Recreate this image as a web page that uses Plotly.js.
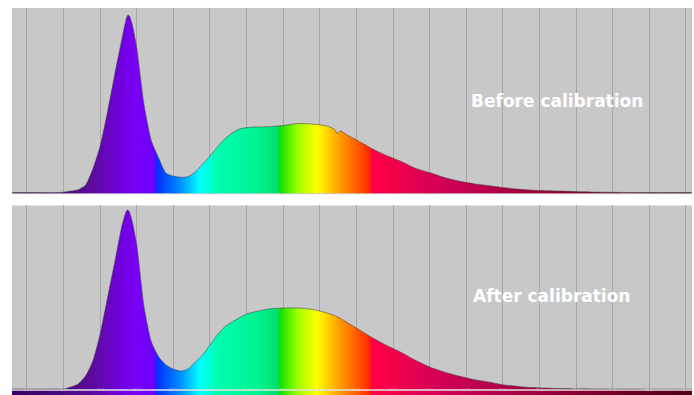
<!DOCTYPE html>
<html>
<head>
<meta charset="utf-8">
<script src="https://cdn.plot.ly/plotly-3.0.1.min.js"></script>
<style>html,body{margin:0;padding:0;background:#fff;}#chart{width:694px;height:395px;}</style>
</head>
<body>
<div id="chart"></div>
<script>
// Wavelength (nm)
const wavelength = [365, 380, 395, 400, 405, 410, 415, 420, 425, 430, 435, 440, 443, 444, 445, 447, 450, 455, 460, 465, 470, 475, 480, 485, 490, 495, 500, 505, 510, 515, 520, 525, 530, 540, 550, 560, 570, 580, 585, 587, 589, 595, 600, 610, 620, 630, 640, 650, 660, 670, 680, 690, 700, 710, 720, 740, 760, 780, 800, 829];
// Relative intensity before calibration
const before = [0.003, 0.003, 0.003, 0.005, 0.011, 0.019, 0.043, 0.13, 0.254, 0.438, 0.643, 0.838, 0.946, 0.962, 0.957, 0.908, 0.784, 0.476, 0.281, 0.189, 0.108, 0.092, 0.086, 0.089, 0.114, 0.157, 0.2, 0.249, 0.292, 0.324, 0.346, 0.354, 0.357, 0.359, 0.365, 0.376, 0.373, 0.362, 0.345, 0.322, 0.336, 0.308, 0.288, 0.243, 0.205, 0.173, 0.135, 0.111, 0.084, 0.065, 0.051, 0.041, 0.03, 0.022, 0.016, 0.011, 0.006, 0.004, 0.003, 0.003];
// Relative intensity after calibration
const after = [0.003, 0.003, 0.003, 0.003, 0.014, 0.03, 0.073, 0.155, 0.302, 0.497, 0.693, 0.894, 0.97, 0.975, 0.965, 0.91, 0.785, 0.448, 0.258, 0.177, 0.133, 0.111, 0.1, 0.111, 0.149, 0.188, 0.242, 0.296, 0.34, 0.367, 0.389, 0.41, 0.421, 0.4375, 0.443, 0.443, 0.435, 0.416, 0.402, 0.394, 0.386, 0.358, 0.334, 0.285, 0.242, 0.204, 0.16, 0.122, 0.095, 0.073, 0.054, 0.041, 0.026, 0.017, 0.011, 0.005, 0.003, 0.003, 0.002, 0.002];
const gridTicks = [375, 400, 425, 450, 475, 500, 525, 550, 575, 600, 625, 650, 675, 700, 725, 750, 775, 800, 825];
const panelTitles = ["Before calibration", "After calibration"];

// spectrum colour stops (nm, colour)
const specNm =  [365, 400, 420, 440, 450, 462, 464, 480, 493, 505, 535, 546, 548, 560, 573, 588, 608, 611, 660, 720, 780, 829];
const specCol = ["#3a0060", "#4a0a80", "#5c0a9c", "#7000e0", "#7a00f5", "#6a00ff", "#0030ff", "#0090ff", "#00ffff", "#00ffb0", "#00f08c", "#00e070", "#10e000", "#a0ff00", "#ffff00", "#ffa000", "#ff3000", "#ff0045", "#d00058", "#a00040", "#700028", "#500018"];
const X0 = 364.8, X1 = 829.2;
const cscale = specNm.map((n, i) => [Math.min(1, Math.max(0, (n - X0) / (X1 - X0))), specCol[i]]);
cscale[0][0] = 0; cscale[cscale.length - 1][0] = 1;

function specTrace(y, xa, ya) {
  return {
    x: wavelength, y: y, xaxis: xa, yaxis: ya, type: 'scatter', mode: 'lines',
    line: {color: 'rgba(70,70,70,0.7)', width: 0.8, shape: 'spline', smoothing: 0.6},
    fill: 'tozeroy',
    fillgradient: {type: 'horizontal', start: X0, stop: X1, colorscale: cscale},
    hoverinfo: 'skip', showlegend: false
  };
}

const traces = [
  specTrace(before, 'x', 'y'),
  specTrace(after, 'x2', 'y2'),
  {
    x: [X0, X1], y: [1, 1], xaxis: 'x3', yaxis: 'y3', type: 'scatter', mode: 'lines',
    line: {width: 0}, fill: 'tozeroy',
    fillgradient: {type: 'horizontal', start: X0, stop: X1, colorscale: cscale},
    hoverinfo: 'skip', showlegend: false
  }
];

const xCommon = {
  range: [X0, X1], tickvals: gridTicks, showticklabels: false, ticks: '',
  showgrid: true, gridcolor: '#a6a6a6', gridwidth: 1, zeroline: false, showline: false, fixedrange: true
};
const yCommon = {showgrid: false, zeroline: false, showticklabels: false, ticks: '', showline: false, fixedrange: true};

const layout = {
  width: 694, height: 395,
  margin: {l: 12, r: 2, t: 8, b: 0},
  paper_bgcolor: '#ffffff',
  plot_bgcolor: '#c8c8c8',
  showlegend: false,
  xaxis: Object.assign({}, xCommon, {anchor: 'y'}),
  yaxis: Object.assign({}, yCommon, {domain: [0.519, 1], range: [-0.0054, 1]}),
  xaxis2: Object.assign({}, xCommon, {anchor: 'y2'}),
  yaxis2: Object.assign({}, yCommon, {domain: [0.0142, 0.4897], range: [0, 1]}),
  xaxis3: {
    range: [X0, X1], anchor: 'y3', side: 'bottom', tickvals: gridTicks,
    ticktext: gridTicks.map(String), ticklabelposition: 'inside', ticks: '', ticklabelstandoff: 0,
    tickfont: {size: 4, color: 'rgba(255,255,255,0.35)', family: 'DejaVu Sans'},
    showgrid: false, zeroline: false, showline: false, fixedrange: true
  },
  yaxis3: Object.assign({}, yCommon, {domain: [0, 0.0116], range: [0, 1]}),
  annotations: [
    {text: panelTitles[0], xref: 'paper', yref: 'paper', x: 0.802, y: 0.76, xanchor: 'center', yanchor: 'middle',
     showarrow: false, font: {family: 'DejaVu Sans', size: 17, color: '#ffffff', weight: 'bold'}},
    {text: panelTitles[1], xref: 'paper', yref: 'paper', x: 0.793, y: 0.256, xanchor: 'center', yanchor: 'middle',
     showarrow: false, font: {family: 'DejaVu Sans', size: 17, color: '#ffffff', weight: 'bold'}}
  ]
};

Plotly.newPlot('chart', traces, layout, {staticPlot: true, displayModeBar: false});
</script>
</body>
</html>
